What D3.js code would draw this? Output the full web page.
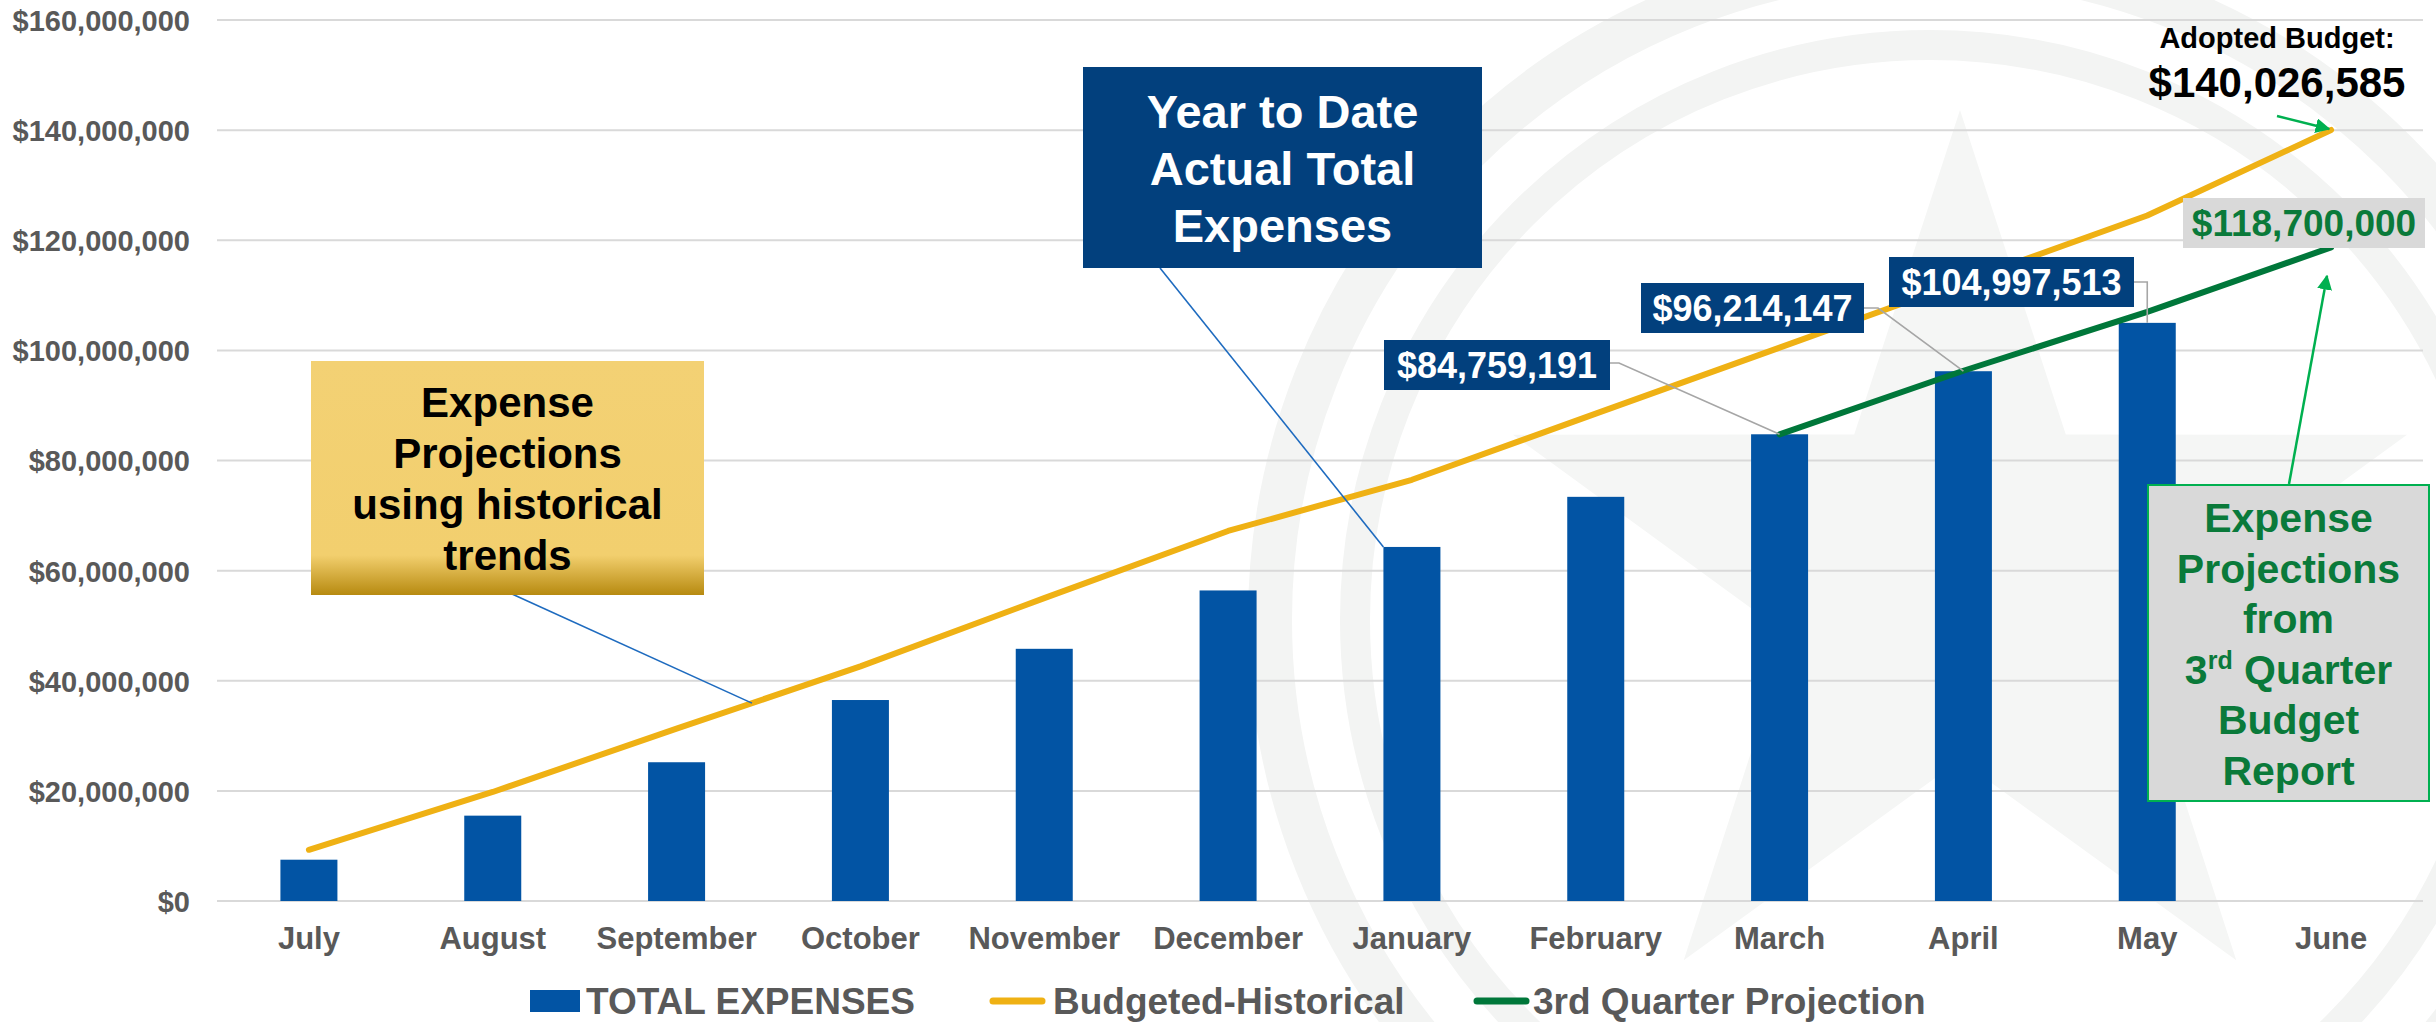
<!DOCTYPE html>
<html><head><meta charset="utf-8">
<script src="https://cdn.jsdelivr.net/npm/d3@7"></script>
<style>
body{margin:0;background:#fff;}
svg text{font-family:"Liberation Sans",Arial,Helvetica,sans-serif;font-weight:bold;}
</style>
</head><body>
<svg id="chart" width="2436" height="1022"></svg>
<script>
// ---------------- data ----------------
const months = ["July","August","September","October","November","December","January","February","March","April","May","June"];
const totalExpenses = [7.5e6, 15.5e6, 25.2e6, 36.5e6, 45.8e6, 56.4e6, 64.3e6, 73.4e6, 84759191, 96214147, 104997513, null];
const budgetedHistorical = [9.3e6, 19.8e6, 31.3e6, 42.6e6, 55.0e6, 67.2e6, 76.5e6, 88.5e6, 100.5e6, 112.5e6, 124.5e6, 140026585];
const thirdQuarterProjection = [null, null, null, null, null, null, null, null, 84759191, 96.3e6, 107.0e6, 118.7e6];
const yTicks = [0, 20e6, 40e6, 60e6, 80e6, 100e6, 120e6, 140e6, 160e6];
const legendLabels = ["TOTAL EXPENSES", "Budgeted-Historical", "3rd Quarter Projection"];
const labeledMonths = ["March", "April", "May"];
const adoptedBudget = 140026585;
const projectedTotal = 118700000;

// ---------------- layout ----------------
const W = 2436, H = 1022;
const plot = {left: 217, right: 2423, top: 20, bottom: 901};
const C = {
  bar: "#0254A4", gold: "#EFB114", green: "#00773A", grid: "#D9D9D9", axis: "#595959",
  navy: "#02407D", gtext: "#0A7A3A", bright: "#00B050", panel: "#D9D9D9", leader: "#A6A6A6"
};

const svg = d3.select("#chart");
const x = d3.scaleBand().domain(months).range([plot.left, plot.right]).padding(0);
const y = d3.scaleLinear().domain([0, 160e6]).range([plot.bottom, plot.top]);
const cx = m => x(m) + x.bandwidth() / 2;
const barW = 57;
const fmt = v => "$" + d3.format(",")(Math.round(v));

const defs = svg.append("defs");
const gg = defs.append("linearGradient").attr("id", "goldGrad").attr("x1", 0).attr("y1", 0).attr("x2", 0).attr("y2", 1);
gg.append("stop").attr("offset", "0%").attr("stop-color", "#F3D174");
gg.append("stop").attr("offset", "83%").attr("stop-color", "#F2CF6E");
gg.append("stop").attr("offset", "100%").attr("stop-color", "#B78A10");
defs.append("marker").attr("id", "arrowG").attr("viewBox", "0 0 10 10").attr("refX", 9).attr("refY", 5)
  .attr("markerWidth", 6).attr("markerHeight", 6).attr("markerUnits", "strokeWidth").attr("orient", "auto")
  .append("path").attr("d", "M0,0 L10,5 L0,10 z").attr("fill", C.bright);

// ---------------- watermark (faint) ----------------
const wm = svg.append("g");
const wcx = 1930, wcy = 620;
[[660, 44], [575, 30]].forEach(([r, w]) => wm.append("circle").attr("cx", wcx).attr("cy", wcy).attr("r", r)
  .attr("fill", "none").attr("stroke", "#F3F4F3").attr("stroke-width", w));
const starPts = d3.range(10).map(i => {
  const a = -Math.PI / 2 + i * Math.PI / 5;
  const r = i % 2 === 0 ? 470 : 180;
  return [1960 + r * Math.cos(a), 580 + r * Math.sin(a)];
});
wm.append("polygon").attr("points", starPts.map(p => p.join(",")).join(" "))
  .attr("fill", "#F5F6F5");

// ---------------- grid & axes ----------------
svg.append("g").selectAll("line").data(yTicks).join("line")
  .attr("x1", plot.left).attr("x2", plot.right)
  .attr("y1", d => y(d)).attr("y2", d => y(d))
  .attr("stroke", C.grid).attr("stroke-width", 2);

const yAxis = svg.append("g").attr("transform", `translate(${plot.left},0)`)
  .call(d3.axisLeft(y).tickValues(yTicks).tickSize(0).tickPadding(27).tickFormat(d => fmt(d)));
yAxis.select(".domain").remove();
yAxis.selectAll("text").attr("font-size", 29).attr("fill", C.axis)
  .attr("font-family", "'Liberation Sans',Arial,sans-serif").attr("font-weight", "bold").attr("dy", "0.36em");

const xAxis = svg.append("g").attr("transform", `translate(0,${plot.bottom})`)
  .call(d3.axisBottom(x).tickSize(0).tickPadding(26));
xAxis.select(".domain").remove();
xAxis.selectAll("text").attr("font-size", 31).attr("fill", C.axis)
  .attr("font-family", "'Liberation Sans',Arial,sans-serif").attr("font-weight", "bold").attr("dy", "0.71em");

// ---------------- bars ----------------
const barData = months.map((m, i) => ({m, v: totalExpenses[i]})).filter(d => d.v != null);
svg.append("g").selectAll("rect").data(barData).join("rect")
  .attr("x", d => cx(d.m) - barW / 2).attr("width", barW)
  .attr("y", d => y(d.v)).attr("height", d => y(0) - y(d.v))
  .attr("fill", C.bar);

// ---------------- lines ----------------
const lineGen = d3.line().defined(d => d.v != null).x(d => cx(d.m)).y(d => y(d.v));
svg.append("path").datum(months.map((m, i) => ({m, v: budgetedHistorical[i]})))
  .attr("d", lineGen).attr("fill", "none").attr("stroke", C.gold).attr("stroke-width", 6)
  .attr("stroke-linecap", "round").attr("stroke-linejoin", "round");
svg.append("path").datum(months.map((m, i) => ({m, v: thirdQuarterProjection[i]})))
  .attr("d", lineGen).attr("fill", "none").attr("stroke", C.green).attr("stroke-width", 6)
  .attr("stroke-linecap", "round").attr("stroke-linejoin", "round");

// ---------------- callout boxes ----------------
function multiText(g, lines, xc, y0, dy, size, color) {
  lines.forEach((t, i) => g.append("text").attr("x", xc).attr("y", y0 + i * dy)
    .attr("text-anchor", "middle").attr("font-size", size).attr("fill", color).text(t));
}

// gold box (historical trends) + leader to budget line
const gx = cx("September") + (cx("October") - cx("September")) * 0.41;
const gy = y(budgetedHistorical[2] + (budgetedHistorical[3] - budgetedHistorical[2]) * 0.41);
svg.append("line").attr("x1", 512).attr("y1", 594).attr("x2", gx).attr("y2", gy)
  .attr("stroke", "#1E6BBF").attr("stroke-width", 1.6);
const goldG = svg.append("g");
goldG.append("rect").attr("x", 311).attr("y", 361).attr("width", 393).attr("height", 234).attr("fill", "url(#goldGrad)");
multiText(goldG, ["Expense", "Projections", "using historical", "trends"], 507.5, 417, 51, 42, "#000");

// navy box (YTD) + leader to January bar
svg.append("line").attr("x1", 1160).attr("y1", 268).attr("x2", cx("January") - barW / 2).attr("y2", y(totalExpenses[6]))
  .attr("stroke", "#1E6BBF").attr("stroke-width", 1.6);
const navyG = svg.append("g");
navyG.append("rect").attr("x", 1083).attr("y", 67).attr("width", 399).attr("height", 201).attr("fill", C.navy);
multiText(navyG, ["Year to Date", "Actual Total", "Expenses"], 1282.5, 128, 57, 47, "#fff");

// data labels for Mar/Apr/May
const labelBoxes = [
  {x: 1384, y: 340, w: 226, h: 50, elbowX: 1619, elbowY: 363, vertical: false},
  {x: 1641, y: 283, w: 223, h: 50, elbowX: 1878, elbowY: 308, vertical: false},
  {x: 1889, y: 257, w: 245, h: 50, elbowX: 2147, elbowY: 282, vertical: true}
];
labeledMonths.forEach((m, k) => {
  const i = months.indexOf(m), b = labelBoxes[k];
  const tx = cx(m), ty = y(totalExpenses[i]);
  svg.append("polyline")
    .attr("points", [[b.x + b.w, b.elbowY], [b.vertical ? tx : b.elbowX, b.elbowY], [tx, ty]].map(p => p.join(",")).join(" "))
    .attr("fill", "none").attr("stroke", C.leader).attr("stroke-width", 1.6);
  svg.append("rect").attr("x", b.x).attr("y", b.y).attr("width", b.w).attr("height", b.h).attr("fill", C.navy);
  svg.append("text").attr("x", b.x + b.w / 2).attr("y", b.y + 38).attr("text-anchor", "middle")
    .attr("font-size", 36).attr("fill", "#fff").text(fmt(totalExpenses[i]));
});

// adopted budget
svg.append("text").attr("x", 2277).attr("y", 48).attr("text-anchor", "middle").attr("font-size", 29).attr("fill", "#000").text("Adopted Budget:");
svg.append("text").attr("x", 2277).attr("y", 97).attr("text-anchor", "middle").attr("font-size", 42).attr("fill", "#000").text(fmt(adoptedBudget));
svg.append("line").attr("x1", 2277).attr("y1", 116).attr("x2", cx("June") - 2).attr("y2", y(adoptedBudget) - 1)
  .attr("stroke", C.bright).attr("stroke-width", 2.5).attr("marker-end", "url(#arrowG)");

// projected total label
svg.append("rect").attr("x", 2183).attr("y", 198).attr("width", 242).attr("height", 50).attr("fill", C.panel);
svg.append("text").attr("x", 2304).attr("y", 236).attr("text-anchor", "middle").attr("font-size", 37).attr("fill", C.gtext).text(fmt(projectedTotal));

// green explanation box + arrow
svg.append("line").attr("x1", 2289).attr("y1", 484).attr("x2", 2327).attr("y2", 276)
  .attr("stroke", C.bright).attr("stroke-width", 2.5).attr("marker-end", "url(#arrowG)");
const gb = svg.append("g");
gb.append("rect").attr("x", 2148).attr("y", 485).attr("width", 281).attr("height", 316)
  .attr("fill", C.panel).attr("stroke", C.bright).attr("stroke-width", 2);
const gLines = ["Expense", "Projections", "from", null, "Budget", "Report"];
gLines.forEach((t, i) => {
  if (t) gb.append("text").attr("x", 2288.5).attr("y", 532 + i * 50.6).attr("text-anchor", "middle")
    .attr("font-size", 41).attr("fill", C.gtext).text(t);
});
const q = gb.append("text").attr("x", 2288.5).attr("y", 532 + 3 * 50.6).attr("text-anchor", "middle")
  .attr("font-size", 41).attr("fill", C.gtext);
q.append("tspan").text("3");
q.append("tspan").attr("font-size", 25).attr("dy", -15).text("rd");
q.append("tspan").attr("dy", 15).text(" Quarter");

// ---------------- legend ----------------
const lg = svg.append("g");
const legendPos = [{mx: 530, tx: 586}, {mx: 990, tx: 1053}, {mx: 1474, tx: 1533}];
const ly = 1001;
lg.append("rect").attr("x", legendPos[0].mx).attr("y", ly - 11).attr("width", 50).attr("height", 22).attr("fill", C.bar);
lg.append("line").attr("x1", legendPos[1].mx + 3).attr("x2", legendPos[1].mx + 52).attr("y1", ly).attr("y2", ly)
  .attr("stroke", C.gold).attr("stroke-width", 7).attr("stroke-linecap", "round");
lg.append("line").attr("x1", legendPos[2].mx + 3).attr("x2", legendPos[2].mx + 52).attr("y1", ly).attr("y2", ly)
  .attr("stroke", C.green).attr("stroke-width", 7).attr("stroke-linecap", "round");
legendLabels.forEach((t, i) => lg.append("text").attr("x", legendPos[i].tx).attr("y", ly + 13)
  .attr("font-size", 37).attr("fill", C.axis).text(t));
</script>
</body></html>
